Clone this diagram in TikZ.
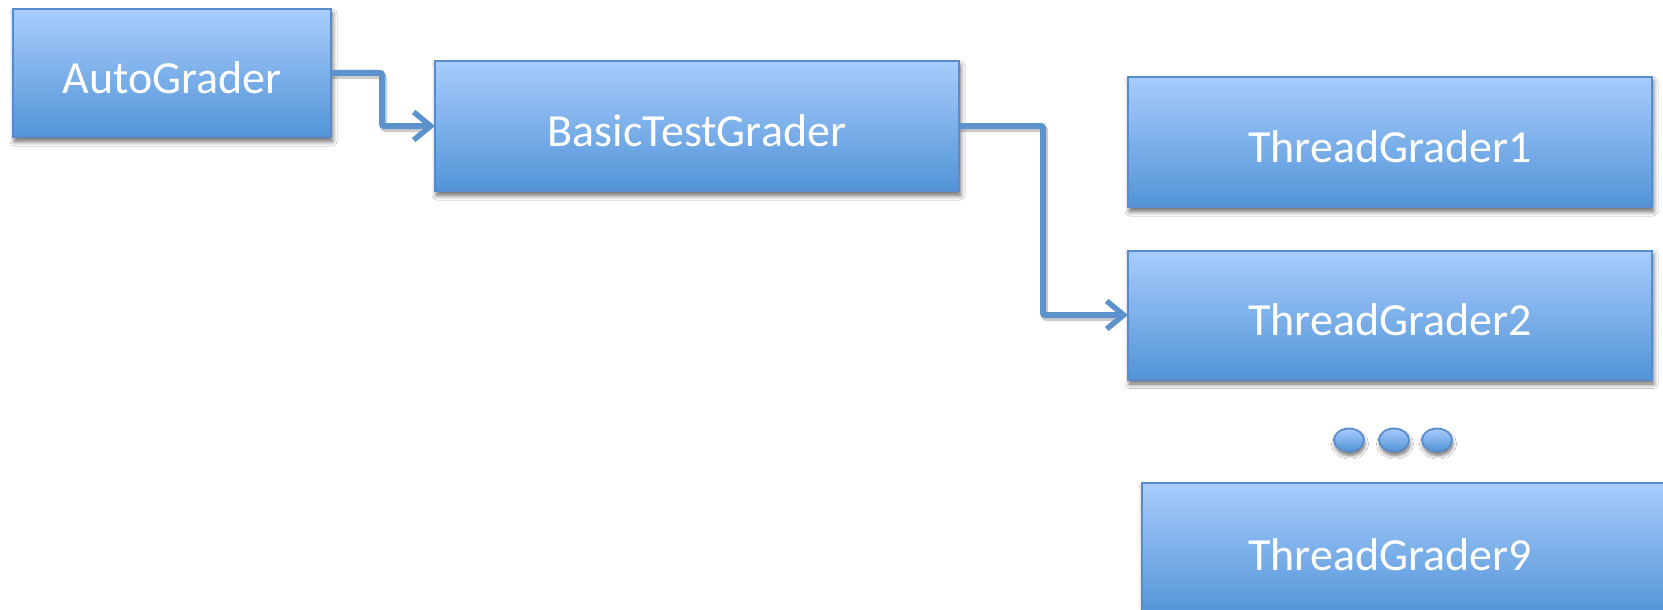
\documentclass[tikz,border=0pt]{standalone}
\usepackage{fontspec}
\setmainfont{Carlito}
\usetikzlibrary{arrows.meta,shadows.blur,shapes.geometric}
\definecolor{boxtop}{RGB}{168,204,253}
\definecolor{boxbot}{RGB}{82,148,215}
\definecolor{boxline}{RGB}{88,140,205}
\definecolor{conn}{RGB}{92,147,204}
\tikzset{
  gbox/.style={rectangle, draw=boxline, line width=2pt, top color=boxtop, bottom color=boxbot,
    text=white, font=\fontsize{46}{55}\selectfont, outer sep=0pt, inner sep=0pt,
    text height=41pt, text depth=0pt,
    blur shadow={shadow xshift=1.5pt, shadow yshift=-4.5pt, shadow blur radius=4.5pt, shadow blur steps=10, shadow opacity=60}},
  gdot/.style={ellipse, draw=boxline, line width=1.8pt, top color=boxtop, bottom color=boxbot,
    minimum width=30pt, minimum height=23pt, inner sep=0pt, outer sep=0pt,
    blur shadow={shadow xshift=1pt, shadow yshift=-4pt, shadow blur radius=3.5pt, shadow blur steps=8, shadow opacity=55}},
  lbl/.style={text=white, font=\fontsize{46}{55}\selectfont, inner sep=0pt},
  connector/.style={draw=conn, line width=6pt, rounded corners=2pt,
    -{Straight Barb[length=17pt,width=28pt,line width=5.5pt]}},
  connshadow/.style={draw=black, opacity=0.2, line width=7pt, rounded corners=2pt}
}
\begin{document}
\begin{tikzpicture}[x=1pt,y=-1pt]
\useasboundingbox (0,0) rectangle (1663,610);
\clip (0,0) rectangle (1663,610);
\fill[white] (0,0) rectangle (1663,610);

\node[gbox, minimum width=318pt, minimum height=128pt] (ag) at (172,73) {AutoGrader};
\node[gbox, minimum width=524pt, minimum height=130pt] (btg) at (697,126) {BasicTestGrader};
\node[gbox, minimum width=524pt, minimum height=130pt] (tg1) at (1390,142) {ThreadGrader1};
\node[gbox, minimum width=524pt, minimum height=129pt] (tg2) at (1390,315) {ThreadGrader2};
\node[gbox, minimum width=530pt, minimum height=134pt] (tg9) at (1407,550) {};
\node[lbl] (tg9t) at (1390,555) {ThreadGrader9};

\node[gdot] (d1) at (1349,440) {};
\node[gdot] (d2) at (1394,440) {};
\node[gdot] (d3) at (1437,440) {};

% connector shadows
\draw[connshadow] ([shift={(1.5pt,-2.5pt)}]ag.east) -- ++(51,0) |- ([shift={(-14pt,-2.5pt)}]btg.west);
\draw[connshadow] ([shift={(1.5pt,-2.5pt)}]btg.east) -- ++(84,0) |- ([shift={(-14pt,-2.5pt)}]tg2.west);

\draw[connector] (ag.east) -- ++(51,0) |- (btg.west);
\draw[connector] (btg.east) -- ++(84,0) |- (tg2.west);
\end{tikzpicture}
\end{document}
